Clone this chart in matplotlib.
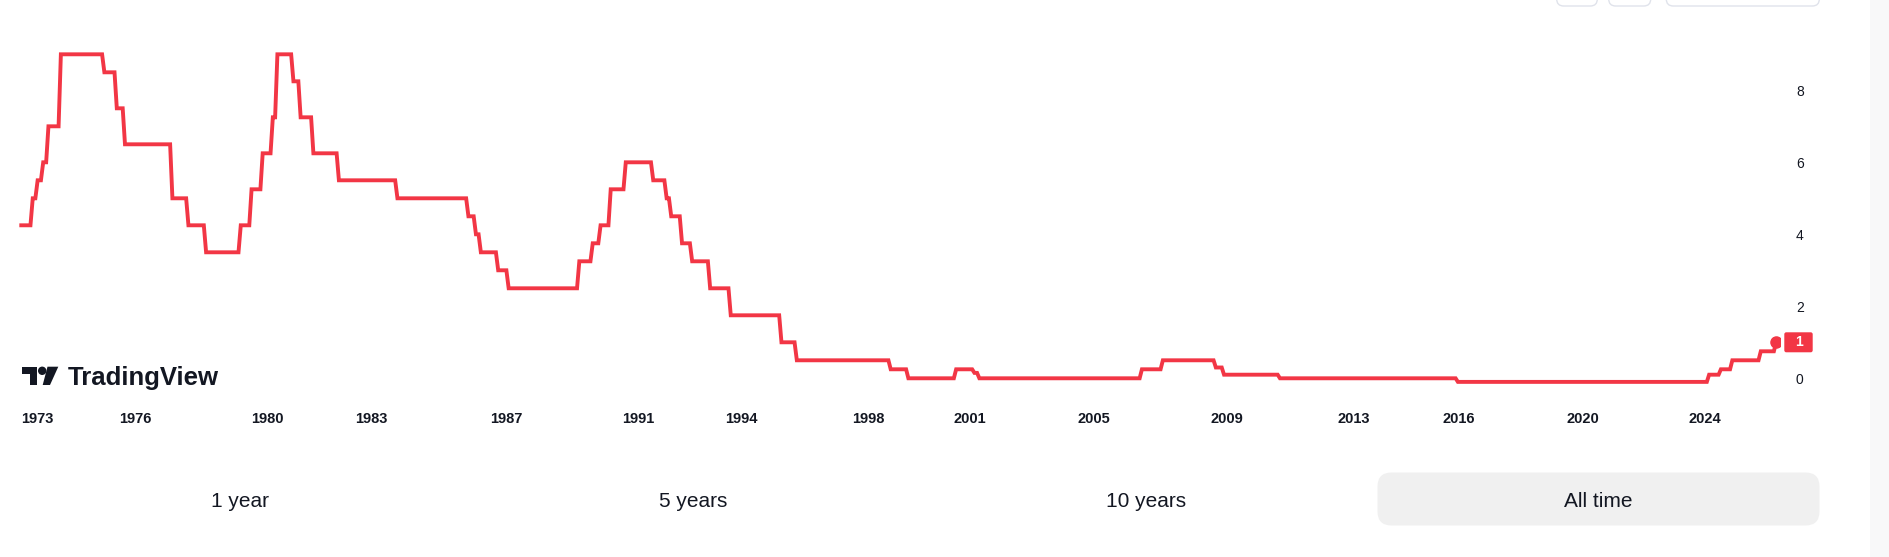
import matplotlib.pyplot as plt
from matplotlib.patches import FancyBboxPatch, Polygon, Circle, Rectangle

# rate steps (x = position on the chart's year axis)
change_x = [1972.46, 1972.87, 1973.02, 1973.19, 1973.35, 1973.73,
            1975.06, 1975.44, 1975.69, 1977.14, 1977.63, 1978.17,
            1979.23, 1979.56, 1979.90, 1980.21, 1980.35, 1980.84,
            1981.06, 1981.45, 1982.23, 1984.02, 1986.19, 1986.42,
            1986.57, 1987.10, 1987.42, 1989.58, 1989.99, 1990.23,
            1990.54, 1991.00, 1991.84, 1992.25, 1992.39, 1992.72,
            1993.03, 1993.58, 1994.21, 1995.76, 1996.23, 1999.10,
            1999.64, 2001.10, 2001.66, 2001.81, 2006.78, 2007.42,
            2009.04, 2009.29, 2011.00, 2016.44, 2024.12, 2024.48,
            2024.83, 2025.70, 2026.17]
rate = [4.25, 5.0, 5.5, 6.0, 7.0, 9.0,
        8.5, 7.5, 6.5, 5.0, 4.25, 3.5,
        4.25, 5.25, 6.25, 7.25, 9.0, 8.25,
        7.25, 6.25, 5.5, 5.0, 4.5, 4.0,
        3.5, 3.0, 2.5, 3.25, 3.75, 4.25,
        5.25, 6.0, 5.5, 5.0, 4.5, 3.75,
        3.25, 2.5, 1.75, 1.0, 0.5, 0.25,
        0.0, 0.25, 0.15, 0.0, 0.25, 0.5,
        0.3, 0.1, 0.0, -0.1, 0.1, 0.25,
        0.5, 0.75, 1.0]

year_ticks = [1973.0, 1976.0, 1980.03, 1983.21, 1987.34, 1991.37, 1994.52, 1998.43,
              2001.52, 2005.31, 2009.38, 2013.26, 2016.47, 2020.26, 2024.0]
year_labels = ["1973", "1976", "1980", "1983", "1987", "1991", "1994", "1998",
               "2001", "2005", "2009", "2013", "2016", "2020", "2024"]
y_ticks = [0, 2, 4, 6, 8]
ranges = ["1 year", "5 years", "10 years", "All time"]

RED = "#F23645"
INK = "#131722"
W, H = 1889, 557
plt.rcParams['font.family'] = ['Liberation Sans', 'DejaVu Sans']

# each change drawn as a short ramp, like the bar-to-bar joins of the source
ramp = 0.07
xs, ys = [change_x[0]], [rate[0]]
for i in range(1, len(rate)):
    xs += [change_x[i] - ramp, change_x[i]]
    ys += [rate[i - 1], rate[i]]

fig = plt.figure(figsize=(W / 100, H / 100), dpi=100)
fig.patch.set_facecolor("white")

# plot area in pixels: x 0..1780, y 20..400
ax = fig.add_axes([0, 1 - 400 / H, 1780 / W, 380 / H])
ax.plot(xs, ys, color=RED, lw=2.8, solid_joinstyle="miter", solid_capstyle="butt")
ax.plot(change_x[-1], rate[-1], "o", color=RED, ms=8)

ax.set_xlim(1971.869, 2026.287)
ax.set_ylim(-0.603, 9.953)
for s in ax.spines.values():
    s.set_visible(False)
ax.set_xticks(year_ticks, year_labels)
ax.set_yticks(y_ticks, [str(t) for t in y_ticks])
ax.yaxis.tick_right()
ax.tick_params(axis="x", length=0, pad=8.5, labelsize=10.5, labelcolor=INK)
ax.tick_params(axis="y", length=0, pad=11.5, labelsize=10, labelcolor=INK)
for lb in ax.get_xticklabels():
    lb.set_fontweight("bold")

# overlay in pixel coordinates for the page decorations
ov = fig.add_axes([0, 0, 1, 1], zorder=5)
ov.set_xlim(0, W)
ov.set_ylim(H, 0)
ov.axis("off")

ov.add_patch(Rectangle((1870, 0), 19, H, fc="#f8f8f9", ec="none"))

# top-right toolbar buttons (cut off)
for x0, x1 in [(1556.7, 1597.3), (1608.7, 1650.7), (1666.3, 1819.3)]:
    ov.add_patch(FancyBboxPatch((x0, -30), x1 - x0, 36,
                                boxstyle="round,pad=0,rounding_size=7",
                                fc="white", ec="#e0e3eb", lw=1))

# last value label
fig.canvas.draw()
ypix = H - ax.transData.transform((change_x[-1], rate[-1]))[1]
ov.add_patch(FancyBboxPatch((1784.3, ypix - 10), 28.4, 20,
                            boxstyle="round,pad=0,rounding_size=2",
                            fc=RED, ec="none"))
ov.text(1798.5, ypix, f"{rate[-1]:g}", color="white", fontsize=10,
        fontweight="bold", ha="center", va="center")

# TradingView logo
ov.add_patch(Polygon([(21.7, 366.7), (36.7, 366.7), (36.7, 385), (29.5, 385),
                      (29.5, 374.3), (21.7, 374.3)], closed=True, fc=INK, ec="none"))
ov.add_patch(Circle((42.2, 370.8), 4.2, fc=INK, ec="none"))
ov.add_patch(Polygon([(47.5, 366.7), (58.3, 366.7), (50, 385), (42.7, 385)],
                     closed=True, fc=INK, ec="none"))
ov.text(68, 385, "TradingView", fontsize=18.5, fontweight="bold", color=INK,
        ha="left", va="baseline")

# range selector
ov.add_patch(FancyBboxPatch((1377.5, 472.5), 442, 53,
                            boxstyle="round,pad=0,rounding_size=14",
                            fc="#f0f0f0", ec="none"))
for cx, lab in zip([240, 693, 1146, 1598.5], ranges):
    ov.text(cx, 507, lab, fontsize=15, color=INK, ha="center", va="baseline")

fig.savefig("out.png", dpi=100)
